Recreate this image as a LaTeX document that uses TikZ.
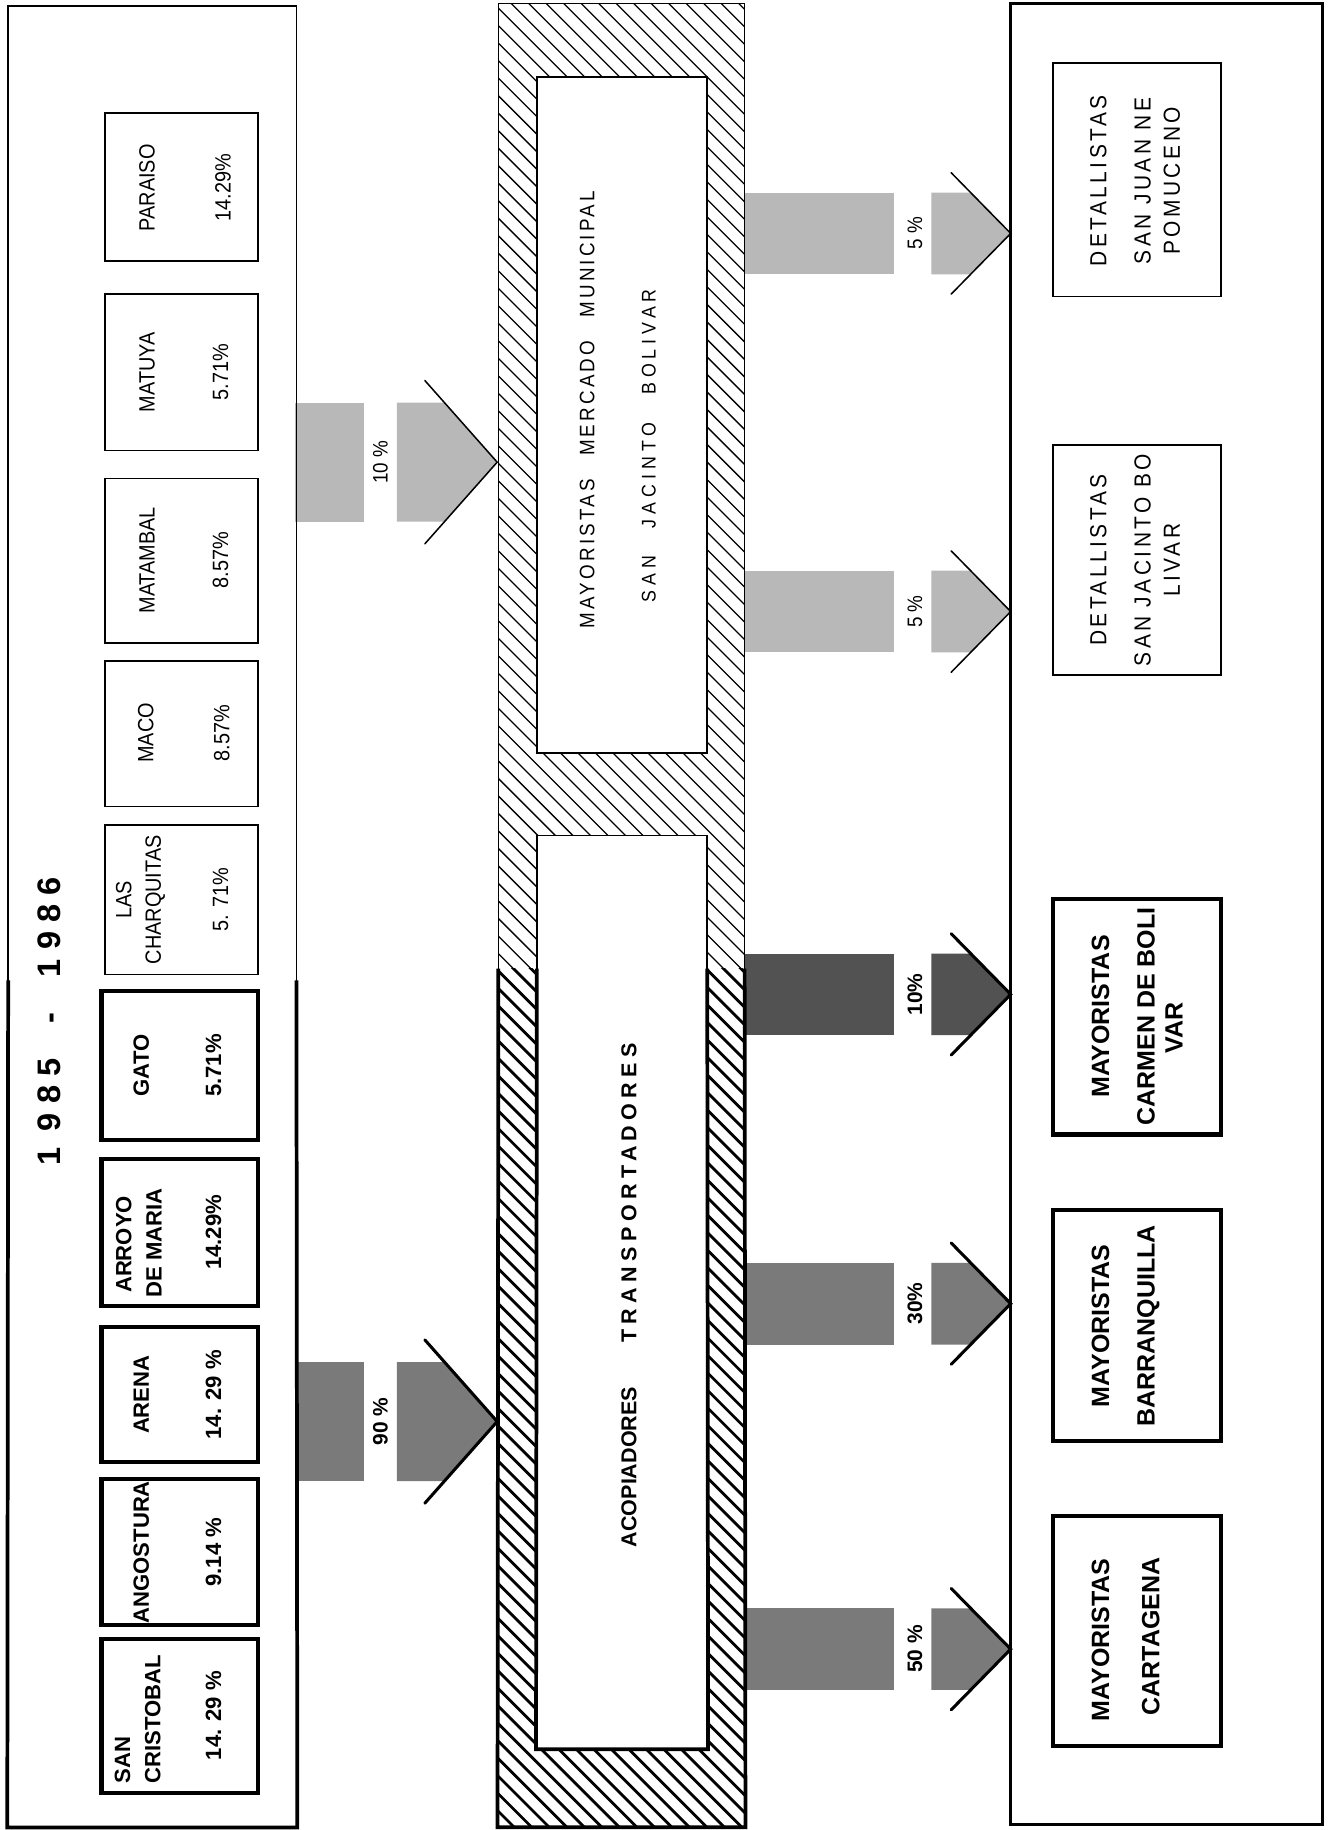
\documentclass[tikz,border=0pt]{standalone}
\usepackage{fontspec}
\setmainfont{Liberation Sans}
\newfontfamily\lightfont[FakeStretch=0.9]{Liberation Sans}
\newfontfamily\lightspfont[FakeStretch=0.9,LetterSpace=15]{Liberation Sans}
\newfontfamily\widespfont[FakeStretch=0.9,LetterSpace=25]{Liberation Sans}
\newfontfamily\boldspfont[LetterSpace=25]{Liberation Sans}
\usetikzlibrary{fit}

\tikzset{
  lbox/.style={draw, line width=1.6bp, inner sep=0pt},
  bbox/.style={draw, line width=3.6bp, inner sep=0pt},
  ltext/.style={rotate=90, inner sep=0pt, font=\lightfont\fontsize{19}{22}\selectfont},
  btext/.style={rotate=90, inner sep=0pt, font=\bfseries\fontsize{19}{22}\selectfont},
  rltext/.style={rotate=90, inner sep=0pt, font=\lightspfont\fontsize{20}{23}\selectfont},
  rbtext/.style={rotate=90, inner sep=0pt, font=\bfseries\fontsize{21.5}{24}\selectfont},
  lightarrow/.style={fill=black!28},
  boldarrow/.style={fill=black!52},
  darkarrow/.style={fill=black!68},
  chevthin/.style={line width=1.3bp, line cap=round},
  chevthick/.style={line width=2.6bp, line cap=round},
  hatchthin/.style={line width=1.1bp},
  hatchthick/.style={line width=2.4bp},
  llabel/.style={rotate=90, inner sep=0pt, font=\lightfont\fontsize{18}{20}\selectfont},
  blabel/.style={rotate=90, inner sep=0pt, font=\bfseries\fontsize{18}{20}\selectfont},
}

\newcommand\LArrow[6]{%
  \fill[#4] (253,#2-51) rectangle (312,#2+51);
  \fill[#4] (340,#2-51) -- (381,#2-51) -- (426,#2) -- (381,#2+51) -- (340,#2+51) -- cycle;
  \coordinate (#1-tip) at (426,#2);
  \draw[#5] (364,#2-70) -- (#1-tip) -- (364,#2+70);
  \node[#6] (#1-lab) at (326,#2) {#3};
}
\newcommand\RArrow[6]{%
  \fill[#4] (638,#2-35) rectangle (766,#2+35);
  \fill[#4] (798,#2-35) -- (832,#2-35) -- (866,#2) -- (832,#2+35) -- (798,#2+35) -- cycle;
  \coordinate (#1-tip) at (866,#2);
  \draw[#5] (815,#2-52) -- (#1-tip) -- (815,#2+52);
  \node[#6] (#1-lab) at (784,#2) {#3};
}

\begin{document}
\begin{tikzpicture}[x=1bp,y=-1bp]
\useasboundingbox (0,0) rectangle (1139,1568);
\fill[white] (0,0) rectangle (1139,1568);

% hatching of the central block
\begin{scope}
  \clip (427,3) rectangle (638,830);
  \foreach \k in {-240,-225,...,840} \draw[hatchthin] (420,\k) -- ++(240,240);
\end{scope}
\begin{scope}
  \clip (427,830) rectangle (638,1565);
  \foreach \k in {570,585,...,1575} \draw[hatchthick] (420,\k) -- ++(240,240);
\end{scope}

% inner boxes of the central block
\node[fill=white, draw, line width=1.4bp, inner sep=0pt, fit={(460,66) (606,645)}] (mercado) {};
\node[fill=white, draw, line width=1.4bp, inner sep=0pt, fit={(460,716) (606,1498)}] (acopiadores) {};
\draw[line width=3.2bp] (460,830) -- (acopiadores.south west) -- (acopiadores.south east) -- (606,830);

% arrows
\LArrow{a10}{396}{10 \%}{lightarrow}{chevthin}{llabel}
\LArrow{a90}{1218}{90 \%}{boldarrow}{chevthick}{blabel}
\RArrow{r5a}{200}{5 \%}{lightarrow}{chevthin}{llabel}
\RArrow{r5b}{524}{5 \%}{lightarrow}{chevthin}{llabel}
\RArrow{r10}{852}{10\%}{darkarrow}{chevthick}{blabel}
\RArrow{r30}{1117}{30\%}{boldarrow}{chevthick}{blabel}
\RArrow{r50}{1413}{50 \%}{boldarrow}{chevthick}{blabel}

% panels
\node[draw, line width=1.5bp, inner sep=0pt, fit={(7,5) (254,1565)}] (origins) {};
\draw[line width=3.2bp] (7,840) -- (origins.south west) -- (origins.south east) -- (254,840);
\node[draw, line width=1.4bp, inner sep=0pt, fit={(427,3) (638,1565)}] (hatchblock) {};
\draw[line width=3.2bp] (427,830) -- (hatchblock.south west) -- (hatchblock.south east) -- (638,830);
\node[draw, line width=2.4bp, inner sep=0pt, fit={(866,3) (1133,1563)}] (destinos) {};

% title
\node[rotate=90, inner sep=0pt, font=\bfseries\fontsize{28}{31}\selectfont] (title) at (42,875)
  {1\hspace{14bp}9\hspace{8bp}8\hspace{8bp}5\hspace{30bp}-\hspace{30bp}1\hspace{8bp}9\hspace{8bp}8\hspace{8bp}6};

% origin boxes (light)
\node[lbox, fit={(90,97) (221,224)}] (paraiso) {};
\node[ltext] (paraiso-n) at (126,161) {PARAISO};
\node[ltext] (paraiso-p) at (191,161) {14.29\%};
\node[lbox, fit={(90,252) (221,386)}] (matuya) {};
\node[ltext] (matuya-n) at (126,319) {MATUYA};
\node[ltext] (matuya-p) at (189,319) {5.71\%};
\node[lbox, fit={(90,410) (221,551)}] (matambal) {};
\node[ltext] (matambal-n) at (126,480) {MATAMBAL};
\node[ltext] (matambal-p) at (189,480) {8.57\%};
\node[lbox, fit={(90,566) (221,691)}] (maco) {};
\node[ltext] (maco-n) at (125,628) {MACO};
\node[ltext] (maco-p) at (190,628) {8.57\%};
\node[lbox, fit={(90,707) (221,835)}] (charquitas) {};
\node[ltext] (charquitas-n1) at (106,771) {LAS};
\node[ltext] (charquitas-n2) at (133,771) {CHARQUITAS};
\node[ltext] (charquitas-p) at (189,771) {5. 71\%};

% origin boxes (bold)
\node[bbox, fit={(87,849) (221,977)}] (gato) {};
\node[btext] (gato-n) at (121,913) {GATO};
\node[btext] (gato-p) at (183,913) {5.71\%};
\node[bbox, fit={(87,993) (221,1119)}] (arroyo) {};
\node[btext, anchor=west] (arroyo-n1) at (106,1108) {ARROYO};
\node[btext, anchor=west] (arroyo-n2) at (132,1112) {DE MARIA};
\node[btext] (arroyo-p) at (183,1056) {14.29\%};
\node[bbox, fit={(87,1137) (221,1253)}] (arena) {};
\node[btext] (arena-n) at (121,1195) {ARENA};
\node[btext] (arena-p) at (183,1195) {14. 29 \%};
\node[bbox, fit={(87,1267) (221,1392)}] (angostura) {};
\node[btext] (angostura-n) at (121,1330) {ANGOSTURA};
\node[btext] (angostura-p) at (183,1330) {9.14 \%};
\node[bbox, fit={(87,1404) (221,1536)}] (cristobal) {};
\node[btext, anchor=west] (cristobal-n1) at (105,1528) {SAN};
\node[btext, anchor=west] (cristobal-n2) at (131,1528) {CRISTOBAL};
\node[btext] (cristobal-p) at (183,1470) {14. 29 \%};

% central block texts
\node[rotate=90, inner sep=0pt, font=\lightspfont\fontsize{18}{21}\selectfont] (mercado-t1) at (503,351) {MAYORISTAS\hspace{20bp}MERCADO\hspace{20bp}MUNICIPAL};
\node[rotate=90, inner sep=0pt, font=\widespfont\fontsize{17}{20}\selectfont] (mercado-t2) at (556,382) {SAN\hspace{24bp}JACINTO\hspace{24bp}BOLIVAR};
\node[rotate=90, inner sep=0pt, font=\bfseries\fontsize{18.5}{21}\selectfont] (acop-t1) at (539,1257) {ACOPIADORES};
\node[rotate=90, inner sep=0pt, font=\boldspfont\bfseries\fontsize{18.5}{21}\selectfont] (acop-t2) at (539,1022) {TRANSPORTADORES};

% destination boxes
\node[lbox, fit={(902,54) (1046,254)}] (sanjuan) {};
\node[rltext] (sanjuan-1) at (941,155) {DETALLISTAS};
\node[rltext] (sanjuan-2) at (979,155) {SAN JUAN NE};
\node[rltext] (sanjuan-3) at (1004,155) {POMUCENO};
\node[lbox, fit={(902,381) (1046,578)}] (sanjacinto) {};
\node[rltext] (sanjacinto-1) at (941,480) {DETALLISTAS};
\node[rltext] (sanjacinto-2) at (979,480) {SAN JACINTO BO};
\node[rltext] (sanjacinto-3) at (1004,480) {LIVAR};
\node[bbox, fit={(902,770) (1046,972)}] (carmen) {};
\node[rbtext] (carmen-1) at (943,871) {MAYORISTAS};
\node[rbtext] (carmen-2) at (982,871) {CARMEN DE BOLI};
\node[rbtext] (carmen-3) at (1006,881) {VAR};
\node[bbox, fit={(902,1037) (1046,1235)}] (barranquilla) {};
\node[rbtext] (barranquilla-1) at (943,1136) {MAYORISTAS};
\node[rbtext] (barranquilla-2) at (984,1136) {BARRANQUILLA};
\node[bbox, fit={(902,1299) (1046,1496)}] (cartagena) {};
\node[rbtext] (cartagena-1) at (943,1405) {MAYORISTAS};
\node[rbtext] (cartagena-2) at (986,1402) {CARTAGENA};
\end{tikzpicture}
\end{document}
